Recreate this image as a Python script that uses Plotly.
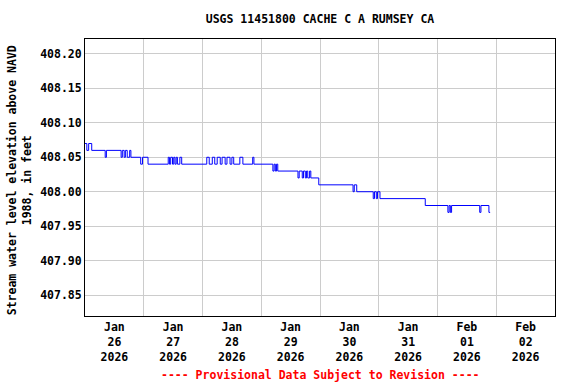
import plotly.graph_objects as go

# Breakpoints of the step series (time, water level in ft)
times = [
    "2026-01-26 00:00", "2026-01-26 00:45", "2026-01-26 01:30", "2026-01-26 02:45",
    "2026-01-26 08:15", "2026-01-26 08:45", "2026-01-26 14:45", "2026-01-26 15:15",
    "2026-01-26 16:00", "2026-01-26 16:30", "2026-01-26 17:15", "2026-01-26 18:15",
    "2026-01-26 18:45", "2026-01-26 22:45", "2026-01-26 23:30", "2026-01-27 01:45",
    "2026-01-27 10:00", "2026-01-27 10:30", "2026-01-27 11:00", "2026-01-27 11:45",
    "2026-01-27 12:15", "2026-01-27 12:45", "2026-01-27 13:15", "2026-01-27 13:45",
    "2026-01-27 14:45", "2026-01-27 15:30",
    "2026-01-28 01:45", "2026-01-28 02:45", "2026-01-28 04:00", "2026-01-28 05:00",
    "2026-01-28 06:00", "2026-01-28 07:15", "2026-01-28 08:00", "2026-01-28 09:15",
    "2026-01-28 10:00", "2026-01-28 11:15", "2026-01-28 12:00", "2026-01-28 12:45",
    "2026-01-28 15:15", "2026-01-28 16:30", "2026-01-28 20:30", "2026-01-28 21:00",
    "2026-01-29 04:45", "2026-01-29 05:15", "2026-01-29 05:45", "2026-01-29 06:15",
    "2026-01-29 06:45",
    "2026-01-29 15:00", "2026-01-29 15:30", "2026-01-29 16:45", "2026-01-29 17:15",
    "2026-01-29 18:00", "2026-01-29 18:30", "2026-01-29 19:00", "2026-01-29 19:45",
    "2026-01-29 20:15", "2026-01-29 23:30",
    "2026-01-30 13:30", "2026-01-30 14:00", "2026-01-30 15:00",
    "2026-01-30 21:45", "2026-01-30 22:15", "2026-01-30 23:00", "2026-01-30 23:30",
    "2026-01-31 00:30", "2026-01-31 19:00",
    "2026-02-01 04:15", "2026-02-01 04:45", "2026-02-01 05:15", "2026-02-01 05:45",
    "2026-02-01 17:15", "2026-02-01 17:45", "2026-02-01 21:00", "2026-02-01 21:30",
]
levels = [
    408.07, 408.06, 408.07, 408.06,
    408.05, 408.06, 408.05, 408.06,
    408.05, 408.06, 408.05, 408.06,
    408.05, 408.04, 408.05, 408.04,
    408.05, 408.04, 408.05, 408.04,
    408.05, 408.04, 408.05, 408.04,
    408.05, 408.04,
    408.05, 408.04, 408.05, 408.04,
    408.05, 408.04, 408.05, 408.04,
    408.05, 408.04, 408.05, 408.04,
    408.05, 408.04, 408.05, 408.04,
    408.03, 408.04, 408.03, 408.04,
    408.03,
    408.02, 408.03, 408.02, 408.03,
    408.02, 408.03, 408.02, 408.03,
    408.02, 408.01,
    408.00, 408.01, 408.00,
    407.99, 408.00, 407.99, 408.00,
    407.99, 407.98,
    407.97, 407.98, 407.97, 407.98,
    407.97, 407.98, 407.97, 407.97,
]

label_days = ["2026-01-26 12:00", "2026-01-27 12:00", "2026-01-28 12:00", "2026-01-29 12:00",
              "2026-01-30 12:00", "2026-01-31 12:00", "2026-02-01 12:00", "2026-02-02 12:00"]
label_text = ["Jan<br>26<br>2026", "Jan<br>27<br>2026", "Jan<br>28<br>2026", "Jan<br>29<br>2026",
              "Jan<br>30<br>2026", "Jan<br>31<br>2026", "Feb<br>01<br>2026", "Feb<br>02<br>2026"]
y_ticks = [407.85, 407.90, 407.95, 408.00, 408.05, 408.10, 408.15, 408.20]

FONT = "DejaVu Sans Mono"
fsize = 11.5

fig = go.Figure()
fig.add_trace(go.Scatter(x=times, y=levels, mode="lines",
                         line=dict(color="#0000ff", width=1, shape="hv"),
                         showlegend=False, hoverinfo="x+y"))

fig.update_layout(
    width=576, height=384,
    margin=dict(l=85, r=21, t=39, b=68),
    paper_bgcolor="white", plot_bgcolor="white",
    font=dict(family=FONT, size=fsize, color="black"),
    title=dict(text="<b>USGS 11451800 CACHE C A RUMSEY CA</b>", x=0.5, xref="paper",
               xanchor="center", y=1 - 19 / 384, yref="container", yanchor="middle",
               font=dict(family=FONT, size=fsize)),
    xaxis=dict(
        type="date", range=["2026-01-26 00:00", "2026-02-03 00:00"],
        tickmode="array", tickvals=label_days,
        ticktext=["<b>" + t.replace("<br>", "</b><br><b>") + "</b>" for t in label_text],
        showgrid=False, ticks="", zeroline=False,
        showline=True, linecolor="black", linewidth=1, mirror=True,
        tickfont=dict(family=FONT, size=fsize),
        minor=dict(tickmode="linear", tick0="2026-01-26", dtick=86400000,
                   showgrid=True, gridcolor="#cccccc", gridwidth=1, ticks=""),
    ),
    yaxis=dict(
        range=[407.8196, 408.2217], tickmode="array", tickvals=y_ticks,
        ticktext=["<b>%.2f</b>" % v for v in y_ticks],
        showgrid=True, gridcolor="#cccccc", gridwidth=1, ticks="", zeroline=False,
        showline=True, linecolor="black", linewidth=1, mirror=True,
        tickfont=dict(family=FONT, size=fsize),
    ),
    annotations=[
        dict(text="<b>Stream water level elevation above NAVD<br>1988, in feet</b>",
             textangle=-90, xref="paper", yref="paper", x=(19 - 85) / 470, y=0.49,
             xanchor="center", yanchor="middle", showarrow=False,
             font=dict(family=FONT, size=fsize, color="black")),
        dict(text="<b>---- Provisional Data Subject to Revision ----</b>",
             xref="paper", yref="paper", x=0.5, y=-(375 - 316) / 277,
             xanchor="center", yanchor="middle", showarrow=False,
             font=dict(family=FONT, size=fsize, color="red")),
    ],
)

fig.write_html("out.html", config={"displayModeBar": False},
               post_script="document.body.style.margin='0';document.body.style.padding='0';")
